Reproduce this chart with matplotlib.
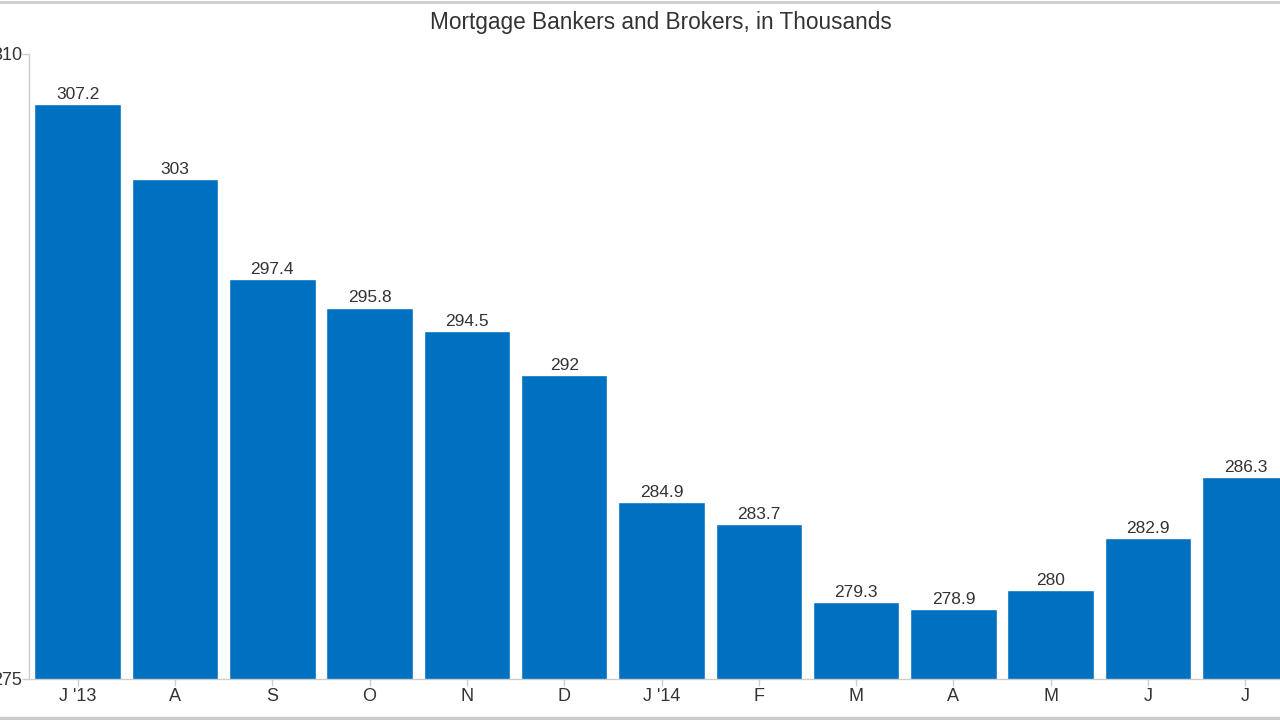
import matplotlib
matplotlib.use('Agg')
import matplotlib.pyplot as plt
from matplotlib.lines import Line2D

plt.rcParams['font.family'] = ['Liberation Sans', 'DejaVu Sans']

# data
months = ["J '13", "A", "S", "O", "N", "D", "J '14", "F", "M", "A", "M", "J", "J"]
values = [307.2, 303, 297.4, 295.8, 294.5, 292, 284.9, 283.7, 279.3, 278.9, 280, 282.9, 286.3]
y_ticks = [275, 310]

blue = '#0070c0'
grey = '#cccccc'
text_col = '#333333'

fig = plt.figure(figsize=(12.8, 7.2), dpi=100)
ax = fig.add_axes([29 / 1280, 41 / 720, 1265 / 1280, 625 / 720])

x = list(range(len(values)))
ax.bar(x, values, width=0.89, color=blue, edgecolor='white', linewidth=1, zorder=2)
for xi, v in zip(x, values):
    ax.annotate(f'{v:g}', (xi, v), xytext=(0, 1.5), textcoords='offset points',
                ha='center', va='bottom', fontsize=12.5, color=text_col)

ax.set_xlim(-0.5, 12.5)
ax.set_ylim(275, 310)
ax.set_xticks(x)
ax.set_xticklabels(months)
ax.set_yticks(y_ticks)
ax.tick_params(axis='both', colors=grey, labelcolor=text_col, labelsize=13, length=5, width=1)
ax.tick_params(axis='x', pad=1.5)
ax.tick_params(axis='y', pad=0)

for s in ['top', 'right']:
    ax.spines[s].set_visible(False)
for s in ['left', 'bottom']:
    ax.spines[s].set_color(grey)
    ax.spines[s].set_linewidth(1)

fig.text(661 / 1280, 1 - 22 / 720, 'Mortgage Bankers and Brokers, in Thousands', ha='center',
         va='center', fontsize=16.3, color=text_col)

# frame lines at top and bottom of the figure
fig.add_artist(Line2D([0, 1], [1 - 1.5 / 720, 1 - 1.5 / 720], color=grey, lw=2, transform=fig.transFigure))
fig.add_artist(Line2D([0, 1], [2.5 / 720, 2.5 / 720], color=grey, lw=2.5, transform=fig.transFigure))

fig.savefig('out.png', dpi=100)
